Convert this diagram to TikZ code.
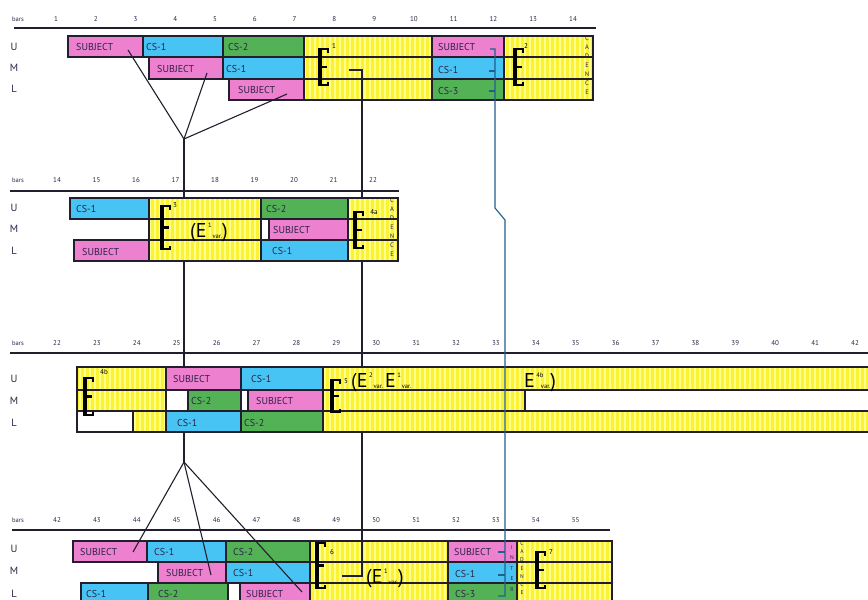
\documentclass[tikz,border=0pt]{standalone}
\usepackage{fontspec}
\setmainfont{PT Sans}
\usetikzlibrary{patterns.meta}
\definecolor{pk}{RGB}{238,128,208}
\definecolor{cy}{RGB}{72,196,244}
\definecolor{gr}{RGB}{84,178,86}
\definecolor{yl}{RGB}{250,242,50}
\definecolor{yls}{RGB}{255,255,140}
\definecolor{ln}{RGB}{35,30,45}
\definecolor{tl}{RGB}{35,95,140}
\definecolor{tx}{RGB}{45,35,70}
\newcommand{\cel}[5]{\path[cellbox,fill=#5] (#1,#3) rectangle (#2,#4);}
\newcommand{\ycel}[4]{\path[cellbox,preaction={fill=yl},pattern={Lines[angle=90,distance=5pt,line width=2pt]},pattern color=yls] (#1,#3) rectangle (#2,#4);}
\newcommand{\bigE}[3]{%
  \draw[estem] (#1+1.8,#2-1) -- (#1+1.8,#3+1);
  \draw[earm] (#1,#2) -- (#1+10,#2) -- (#1+10,#2+3.5)
              (#1,{(#2+#3)/2}) -- (#1+8.5,{(#2+#3)/2})
              (#1,#3) -- (#1+10,#3) -- (#1+10,#3-3.5);}
\newcommand{\Ev}[1]{E\rlap{\hspace{1.5pt}\raisebox{10pt}{\fontsize{6.5}{6.5}\selectfont #1}}\hspace{6pt}\raisebox{-1.5pt}{\fontsize{6.5}{6.5}\selectfont var.}}
\begin{document}
\begin{tikzpicture}[x=1pt,y=-1pt,
  cellbox/.style={draw=ln,line width=1.3pt},
  lbl/.style={anchor=west,inner sep=0pt,text=tx,font=\fontsize{10}{10}\selectfont},
  barnum/.style={inner sep=0pt,text=tx,font=\fontsize{7}{8}\selectfont},
  barsword/.style={inner sep=0pt,text=tx,font=\fontsize{6.5}{7}\selectfont},
  rowlbl/.style={inner sep=0pt,text=tx,font=\fontsize{10.5}{11}\selectfont},
  rulebar/.style={draw=ln,line width=1.4pt},
  estem/.style={draw=black,line width=4pt},
  earm/.style={draw=black,line width=2.4pt},
  esup/.style={inner sep=0pt,text=black,font=\fontsize{7}{7}\selectfont},
  evtxt/.style={anchor=base west,inner sep=0pt,text=black,font=\fontsize{20}{20}\selectfont},
  vtext/.style={anchor=north,inner sep=0pt,align=center,text=tx},
  conn/.style={draw=ln,line width=1.1pt},
  tconn/.style={draw=tl,line width=1.1pt}]
\useasboundingbox (0,0) rectangle (868,600);
\clip (0,0) rectangle (868,600);
\fill[white] (0,0) rectangle (868,600);

% ---------- coordinates for connectors
\coordinate (t1u) at (128,50);
\coordinate (t1m) at (207,73);
\coordinate (t1l) at (287,94);
\coordinate (apex1) at (184,139);
\coordinate (apex2) at (184,462);
\coordinate (t4u) at (133,552);
\coordinate (t4m) at (211,575);
\coordinate (t4l) at (302,592);
\coordinate (e1s) at (349,70);
\coordinate (e1c) at (362,70);
\coordinate (e6c) at (362,576);
\coordinate (e6s) at (342,576);
\coordinate (s1b) at (362,100);
\coordinate (s4t) at (362,541);

% background connectors
\draw[conn] (apex1) -- (apex2);
\draw[conn] (s1b) -- (s4t);

% ---------- headers
\foreach \y/\ttl in {19/1,180/2,343/3,520/4} \node[barsword] (bars\ttl) at (18,\y) {bars};
\foreach \n in {1,...,14} \node[barnum] (ba\n) at ({56+(\n-1)*39.77},19) {\n};
\foreach \n [count=\i from 0] in {14,...,22} \node[barnum] (bb\n) at ({57+\i*39.5},180) {\n};
\foreach \n [count=\i from 0] in {22,...,42} \node[barnum] (bc\n) at ({57+\i*39.9},343) {\n};
\foreach \n [count=\i from 0] in {42,...,55} \node[barnum] (bd\n) at ({57+\i*39.9},520) {\n};
\draw[rulebar] (14,28) -- (596,28);
\draw[rulebar] (10,191) -- (399,191);
\draw[rulebar] (10,353) -- (870,353);
\draw[rulebar] (12,530) -- (610,530);

% row labels
\foreach \y/\r/\k in {47/U/a,68/M/b,89/L/c} \node[rowlbl] (r1\k) at (14,\y) {\r};
\foreach \y/\r/\k in {208/U/a,229/M/b,251/L/c} \node[rowlbl] (r2\k) at (14,\y) {\r};
\foreach \y/\r/\k in {379/U/a,401/M/b,423/L/c} \node[rowlbl] (r3\k) at (14,\y) {\r};
\foreach \y/\r/\k in {549/U/a,571/M/b,594/L/c} \node[rowlbl] (r4\k) at (14,\y) {\r};

% ---------- section 1
\cel{68}{143}{36}{57}{pk}\cel{143}{223}{36}{57}{cy}\cel{223}{304}{36}{57}{gr}
\ycel{304}{432}{36}{57}\cel{432}{504}{36}{57}{pk}\ycel{504}{593}{36}{57}
\cel{149}{223}{57}{79}{pk}\cel{223}{304}{57}{79}{cy}\ycel{304}{432}{57}{79}
\cel{432}{504}{57}{79}{cy}\ycel{504}{593}{57}{79}
\cel{229}{304}{79}{100}{pk}\ycel{304}{432}{79}{100}\cel{432}{504}{79}{100}{gr}
\ycel{504}{593}{79}{100}
\node[lbl] (a1) at (76,47) {SUBJECT};
\node[lbl] (a2) at (146,47) {CS-1};
\node[lbl] (a3) at (228,47) {CS-2};
\node[lbl] (a4) at (438,47) {SUBJECT};
\node[lbl] (a5) at (157,69) {SUBJECT};
\node[lbl] (a6) at (226,69) {CS-1};
\node[lbl] (a7) at (438,70) {CS-1};
\node[lbl] (a8) at (238,90) {SUBJECT};
\node[lbl] (a9) at (438,91) {CS-3};
\bigE{318}{49}{85}
\node[esup] (a10) at (334,46) {1};
\bigE{513}{49}{85}
\node[esup] (a11) at (526,46) {2};
\node[vtext,font=\fontsize{6.5}{9}\selectfont] (a12) at (587,36) {C\\A\\D\\E\\N\\C\\E};

% ---------- section 2
\cel{70}{149}{198}{219}{cy}\ycel{149}{261}{198}{219}\cel{261}{348}{198}{219}{gr}\ycel{348}{398}{198}{219}
\ycel{149}{261}{219}{240}\cel{261}{269}{219}{240}{white}\cel{269}{348}{219}{240}{pk}\ycel{348}{398}{219}{240}
\cel{74}{149}{240}{261}{pk}\ycel{149}{261}{240}{261}\cel{261}{348}{240}{261}{cy}\ycel{348}{398}{240}{261}
\node[lbl] (b1) at (76,209) {CS-1};
\node[lbl] (b2) at (266,209) {CS-2};
\node[lbl] (b3) at (273,230) {SUBJECT};
\node[lbl] (b4) at (82,252) {SUBJECT};
\node[lbl] (b5) at (272,251) {CS-1};
\bigE{160}{206}{249}
\node[esup] (b6) at (175,205) {3};
\node[evtxt] (b7) at (190,237) {(\Ev{1})};
\bigE{353}{212}{248}
\node[esup] (b8) at (374,212) {4a};
\node[vtext,font=\fontsize{6.5}{9}\selectfont] (b9) at (392,198) {C\\A\\D\\E\\N\\C\\E};

% ---------- section 3
\ycel{77}{166}{367}{390}\cel{166}{241}{367}{390}{pk}\cel{241}{323}{367}{390}{cy}\ycel{323}{875}{367}{390}
\ycel{77}{166}{390}{411}\cel{166}{188}{390}{411}{white}\cel{188}{241}{390}{411}{gr}\cel{241}{248}{390}{411}{white}
\cel{248}{323}{390}{411}{pk}\ycel{323}{525}{390}{411}\cel{525}{875}{390}{411}{white}
\cel{77}{133}{411}{432}{white}\ycel{133}{166}{411}{432}\cel{166}{241}{411}{432}{cy}\cel{241}{323}{411}{432}{gr}
\ycel{323}{875}{411}{432}
\node[lbl] (c1) at (173,379) {SUBJECT};
\node[lbl] (c2) at (251,379) {CS-1};
\node[lbl] (c3) at (191,401) {CS-2};
\node[lbl] (c4) at (256,401) {SUBJECT};
\node[lbl] (c5) at (177,423) {CS-1};
\node[lbl] (c6) at (244,423) {CS-2};
\bigE{83}{378}{415}
\node[esup] (c7) at (104,372) {4b};
\bigE{330}{380}{412}
\node[esup] (c8) at (346,381) {5};
\node[evtxt] (c9) at (351,387) {(\Ev{2}\hspace{2pt}\Ev{1}};
\node[evtxt] (c10) at (524,387) {\Ev{4b})};

% ---------- section 4
\cel{73}{147}{541}{562}{pk}\cel{147}{226}{541}{562}{cy}\cel{226}{310}{541}{562}{gr}
\ycel{310}{448}{541}{562}\cel{448}{517}{541}{562}{pk}\ycel{517}{612}{541}{562}
\cel{158}{226}{562}{583}{pk}\cel{226}{310}{562}{583}{cy}\ycel{310}{448}{562}{583}
\cel{448}{517}{562}{583}{cy}\ycel{517}{612}{562}{583}
\cel{81}{148}{583}{604}{cy}\cel{148}{228}{583}{604}{gr}\cel{228}{240}{583}{604}{white}
\cel{240}{310}{583}{604}{pk}\ycel{310}{448}{583}{604}\cel{448}{517}{583}{604}{gr}\ycel{517}{612}{583}{604}
\node[lbl] (d1) at (80,552) {SUBJECT};
\node[lbl] (d2) at (154,552) {CS-1};
\node[lbl] (d3) at (233,552) {CS-2};
\node[lbl] (d4) at (454,552) {SUBJECT};
\node[lbl] (d5) at (166,573) {SUBJECT};
\node[lbl] (d6) at (233,573) {CS-1};
\node[lbl] (d7) at (455,574) {CS-1};
\node[lbl] (d8) at (86,594) {CS-1};
\node[lbl] (d9) at (158,594) {CS-2};
\node[lbl] (d10) at (246,594) {SUBJECT};
\node[lbl] (d11) at (455,594) {CS-3};
\bigE{315}{543}{588}
\node[esup] (d12) at (332,552) {6};
\node[evtxt] (d13) at (366,583) {(\Ev{1})};
\bigE{535}{552}{588}
\node[esup] (d14) at (551,552) {7};
\node[vtext,font=\fontsize{5.5}{10.5}\selectfont] (d15) at (512,545) {I\\N\\T\\E\\R};
\node[vtext,font=\fontsize{5.5}{8.3}\selectfont] (d16) at (522,541) {C\\A\\D\\E\\N\\C\\E};

% ---------- foreground connectors
\draw[conn] (t1u) -- (apex1);
\draw[conn] (t1m) -- (apex1);
\draw[conn] (t1l) -- (apex1);
\draw[conn] (apex2) -- (t4u);
\draw[conn] (apex2) -- (t4m);
\draw[conn] (apex2) -- (t4l);
\draw[conn] (e1s) -- (e1c) -- (s1b);
\draw[conn] (s4t) -- (e6c) -- (e6s);
% teal line
\coordinate (q1) at (495,49);
\coordinate (q2) at (495,208);
\coordinate (q3) at (505,220);
\coordinate (q4) at (505,596);
\draw[tconn] (490,49) -- (q1) -- (q2) -- (q3) -- (q4) -- (498,596);
\draw[tconn] (489,71) -- (495,71);
\draw[tconn] (489,91) -- (495,91);
\draw[tconn] (498,552) -- (505,552);
\draw[tconn] (498,575) -- (505,575);
\end{tikzpicture}
\end{document}
